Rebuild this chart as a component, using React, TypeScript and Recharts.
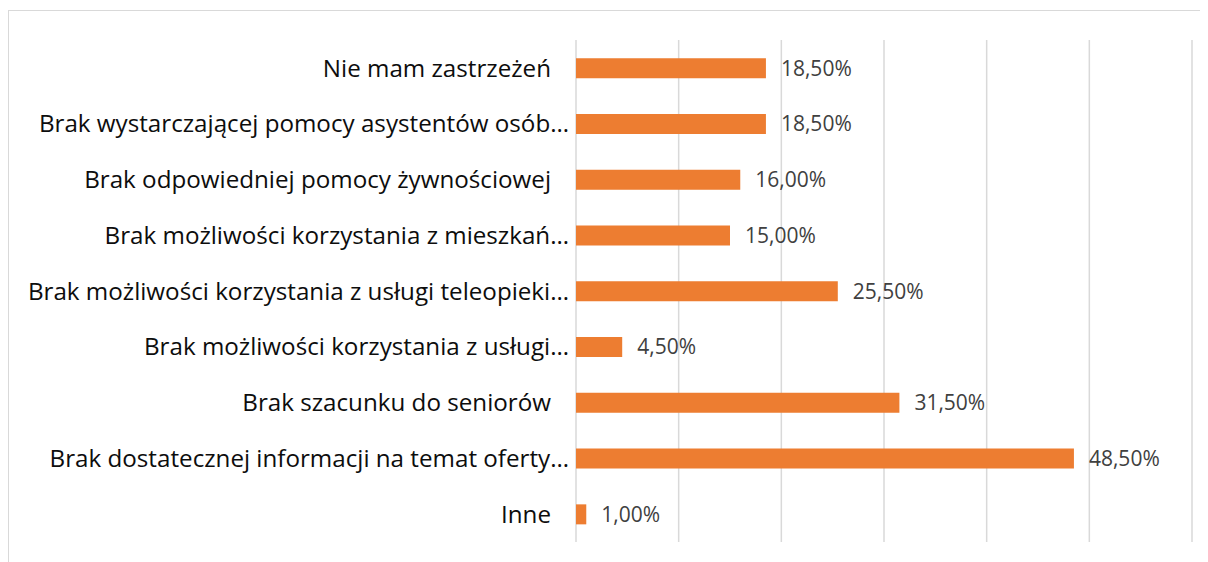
import React from "react";
import { BarChart, Bar, XAxis, YAxis, CartesianGrid, LabelList } from "recharts";

const categories = [
  "Nie mam zastrzeżeń",
  "Brak wystarczającej pomocy asystentów osób…",
  "Brak odpowiedniej pomocy żywnościowej",
  "Brak możliwości korzystania z mieszkań…",
  "Brak możliwości korzystania z usługi teleopieki…",
  "Brak możliwości korzystania z usługi…",
  "Brak szacunku do seniorów",
  "Brak dostatecznej informacji na temat oferty…",
  "Inne",
];
const values = [0.185, 0.185, 0.16, 0.15, 0.255, 0.045, 0.315, 0.485, 0.01];
const xTicks = [0, 0.1, 0.2, 0.3, 0.4, 0.5, 0.6];

const data = categories.map((name, i) => ({ name, value: values[i] }));

const fmt = (v: number) => (v * 100).toFixed(2).replace(".", ",") + "%";

const CategoryTick = (props: any) => {
  const { x, y, payload } = props;
  const label: string = payload.value;
  const truncated = label.endsWith("…");
  return (
    <text
      x={x - (truncated ? 7 : 25)}
      y={y}
      dy="0.36em"
      textAnchor="end"
      fill="#0d0d0d"
      fontSize={24.2}
      fontFamily="'Open Sans', 'Noto Sans', sans-serif"
    >
      {label}
    </text>
  );
};

export default function App() {
  return (
    <div style={{ position: "relative", width: 1200, height: 554, overflow: "hidden", background: "#fff" }}>
      <div
        style={{
          position: "absolute",
          left: 0,
          top: 2,
          width: 1400,
          height: 800,
          border: "1px solid #d9d9d9",
          boxSizing: "border-box",
        }}
      />
      <div style={{ position: "absolute", left: 0, top: 0 }}>
        <BarChart
          width={1200}
          height={554}
          data={data}
          layout="vertical"
          margin={{ top: 32, right: 16, bottom: 20, left: 0 }}
          barCategoryGap="32.5%"
        >
          <CartesianGrid horizontal={false} stroke="#d9d9d9" strokeWidth={1.5} />
          <XAxis type="number" domain={[0, 0.6]} ticks={xTicks} hide />
          <YAxis
            type="category"
            dataKey="name"
            width={568}
            tickLine={false}
            axisLine={false}
            tickSize={0}
            tickMargin={0}
            interval={0}
            tick={<CategoryTick />}
          />
          <Bar dataKey="value" fill="#ED7D31" isAnimationActive={false}>
            <LabelList
              dataKey="value"
              position="right"
              offset={15}
              formatter={(v: any) => fmt(Number(v))}
              fill="#404040"
              fontSize={21}
              fontFamily="'Open Sans', 'Noto Sans', sans-serif"
            />
          </Bar>
        </BarChart>
      </div>
    </div>
  );
}
